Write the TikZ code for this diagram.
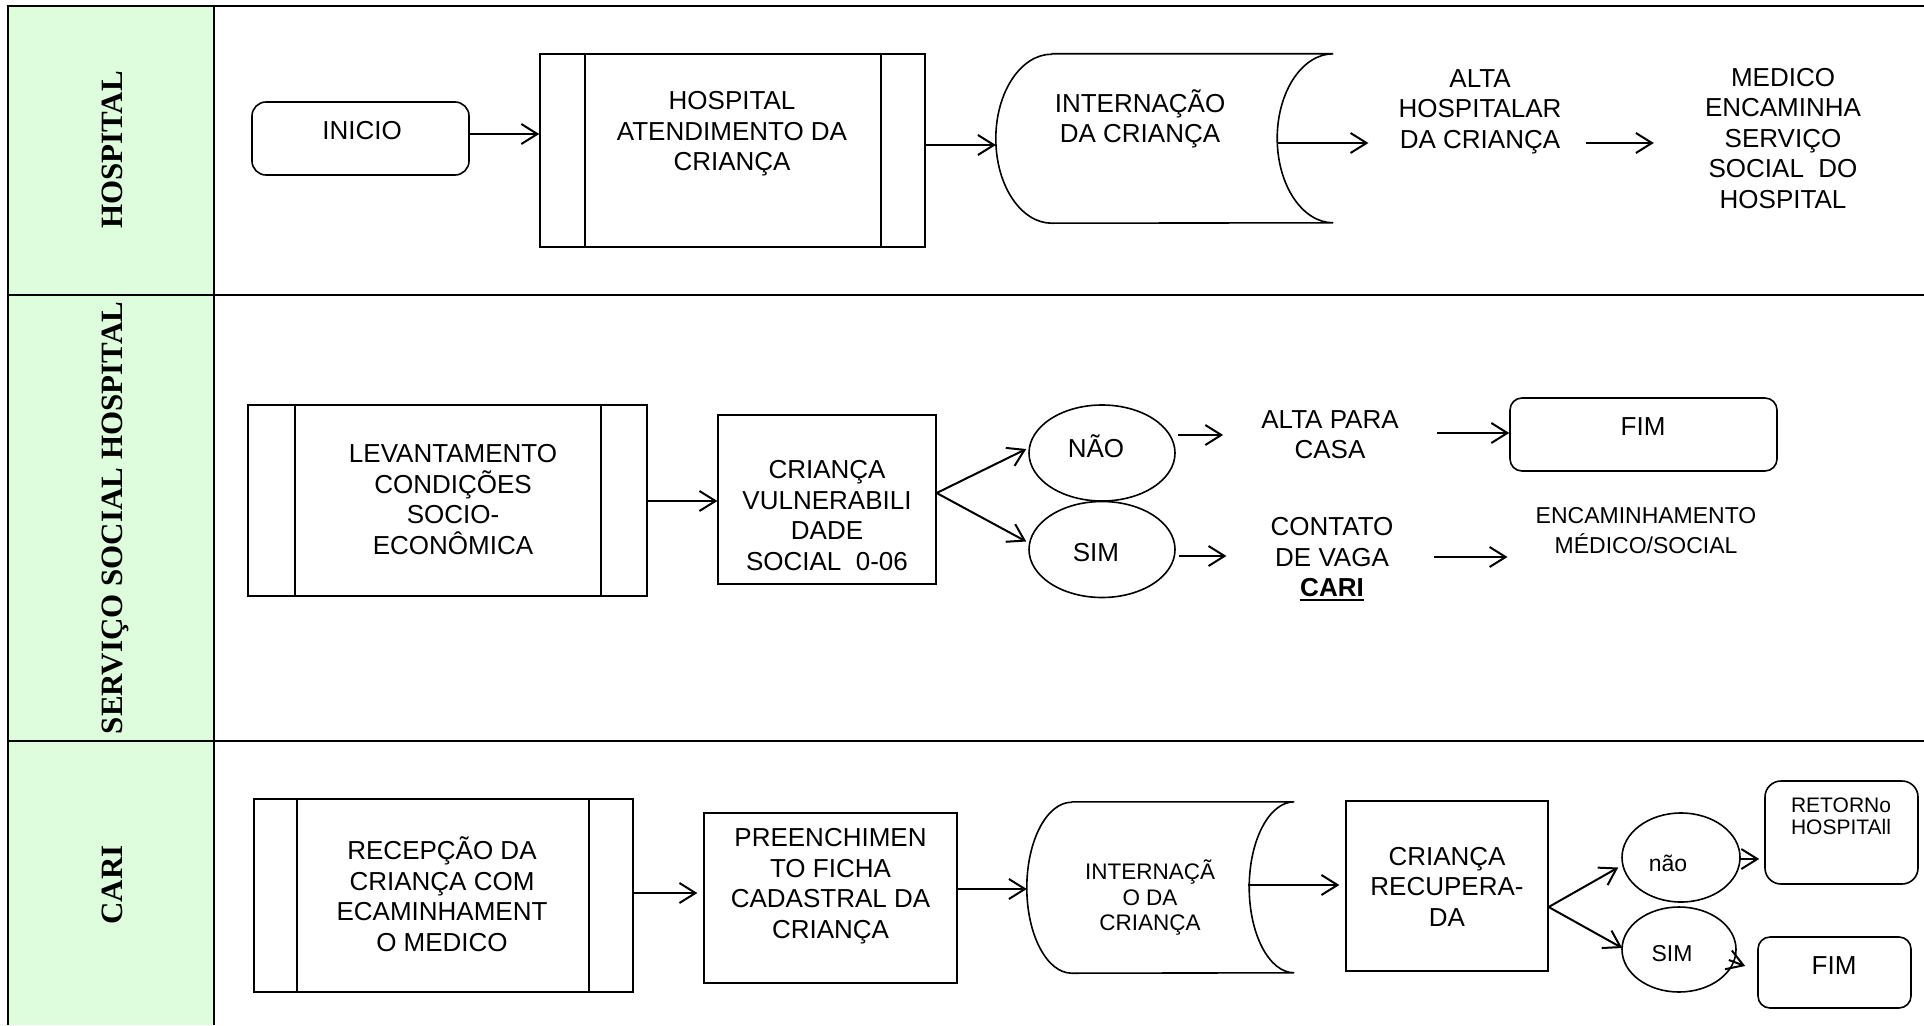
\documentclass[tikz,border=0pt]{standalone}
\usepackage{fontspec}
\setmainfont{Liberation Sans}
\newfontfamily\lanefont{Liberation Serif}
\usetikzlibrary{shapes.geometric,arrows.meta,calc}
\definecolor{lanegreen}{RGB}{221,253,221}
\newcommand\tstrut{\rule[-0.21em]{0pt}{1.14em}}
\newcommand\myul[1]{\leavevmode\vtop{\hbox{#1}\kern2pt\hrule height 2pt}}
\begin{document}
\begin{tikzpicture}[x=1pt,y=-1pt,
  frame/.style={line width=2.2pt},
  shp/.style={draw, line width=1.6pt, inner sep=0pt},
  txt/.style={inner sep=0pt, align=center, font=\fontsize{26pt}{30.5pt}\selectfont,
    execute at begin node=\tstrut, execute at end node=\tstrut},
  txtm/.style={txt, font=\fontsize{23pt}{30pt}\selectfont},
  txts/.style={txt, font=\fontsize{22.5pt}{25.5pt}\selectfont},
  txtxs/.style={txt, font=\fontsize{21pt}{22pt}\selectfont},
  arr/.style={line width=2pt, -{Straight Barb[length=16pt,width=20pt]}},
  lane/.style={rotate=90, inner sep=0pt, text height=21pt, text depth=0pt,
    font=\lanefont\bfseries\fontsize{31pt}{31pt}\selectfont},
  procline/.style={line width=1.6pt}
]
\useasboundingbox (0,0) rectangle (1924,1025);

% frame and lanes
\fill[lanegreen] (8,6) rectangle (214,1025);
\draw[frame] (1924,6) -- (8,6) -- (8,1025);
\draw[frame] (214,6) -- (214,1025);
\draw[frame] (8,295) -- (1924,295);
\draw[frame] (8,741) -- (1924,741);

\node[lane] (lh) at (112,150) {HOSPITAL};
\node[lane] (ls) at (112,518) {SERVIÇO SOCIAL HOSPITAL};
\node[lane] (lc) at (112,885) {CARI};

% ---------------- HOSPITAL lane
\node[shp, rounded corners=14pt, minimum width=217, minimum height=73] (inicio) at (360.5,138.5) {};
\node[txt] (inicioT) at (362,130) {INICIO};

\node[shp, minimum width=385, minimum height=193] (hosp) at (732.5,150.5) {};
\draw[procline] ([xshift=46pt]hosp.north west) -- ([xshift=46pt]hosp.south west);
\draw[procline] ([xshift=-45pt]hosp.north east) -- ([xshift=-45pt]hosp.south east);
\node[txt] (hospT) at (732,134) {HOSPITAL\\ATENDIMENTO DA\\CRIANÇA};

\node[inner sep=0pt, minimum width=337, minimum height=169] (int1) at (1164.5,138.5) {};
\draw[procline] ([xshift=56pt]int1.north west) -- (int1.north east)
  arc[start angle=90, end angle=270, x radius=56pt, y radius=84.5pt]
  -- ([xshift=56pt]int1.south west)
  arc[start angle=270, end angle=90, x radius=56pt, y radius=84.5pt];
\node[txt] (int1T) at (1140,119) {INTERNAÇÃO\\DA CRIANÇA};

\node[txt] (altaH) at (1480,111.5) {ALTA\\HOSPITALAR\\DA CRIANÇA};
\node[txt] (medico) at (1783,141) {MEDICO\\ENCAMINHA\\SERVIÇO\\SOCIAL\ \ DO\\HOSPITAL};

\draw[arr] ($(inicio.east)+(0,-4.5)$) coordinate (a1) -- (a1 -| hosp.west);
\draw[arr] ($(hosp.east)+(0,-5.5)$) coordinate (a2) -- (a2 -| int1.west);
\draw[arr] ($(int1.east)+(-56,4.5)$) coordinate (a3) -- ($(a3 -| altaH.west)+(-30,0)$);
\draw[arr] ($(a3 -| altaH.east)+(24,0)$) -- ($(a3 -| medico.west)+(-51,0)$);

% ---------------- SERVICO SOCIAL lane
\node[shp, minimum width=399, minimum height=191] (lev) at (447.5,500.5) {};
\draw[procline] ([xshift=48pt]lev.north west) -- ([xshift=48pt]lev.south west);
\draw[procline] ([xshift=-47pt]lev.north east) -- ([xshift=-47pt]lev.south east);
\node[txt] (levT) at (453,502) {LEVANTAMENTO\\CONDIÇÕES\\SOCIO-\\ECONÔMICA};

\node[shp, line width=1.3pt, minimum width=218, minimum height=169] (crv) at (827,499.5) {};
\node[txt] (crvT) at (827,518) {CRIANÇA\\VULNERABILI\\DADE\\SOCIAL\ \ 0-06};

\node[shp, ellipse, minimum width=146, minimum height=96] (nao) at (1102,453) {};
\node[txt] (naoT) at (1096,448) {NÃO};
\node[shp, ellipse, minimum width=146, minimum height=96] (sim) at (1102,549.5) {};
\node[txt] (simT) at (1096,552) {SIM};

\node[txt] (altaC) at (1330,437.5) {ALTA PARA\\CASA};
\node[txt] (contato) at (1332,560) {CONTATO\\DE VAGA\\\myul{\bfseries CARI}};

\node[shp, rounded corners=12pt, minimum width=267, minimum height=73] (fim1) at (1643.5,434.5) {};
\node[txt] (fim1T) at (1643,426) {FIM};
\node[txtm] (encam) at (1646,533) {ENCAMINHAMENTO\\MÉDICO/SOCIAL};

\draw[arr] ($(lev.east)+(0,0.5)$) coordinate (b1) -- (b1 -| crv.west);
\draw[arr] ($(crv.east)+(0,-6.5)$) coordinate (b2) -- ($(nao.west)+(-2,-4)$);
\draw[arr] (b2) -- ($(sim.west)+(-2,-8)$);
\draw[arr] ($(nao.east)+(2,-18)$) coordinate (b3) -- ($(b3 -| altaC.west)+(-38,0)$);
\draw[arr] ($(sim.east)+(3,6.5)$) coordinate (b4) -- ($(b4 -| contato.west)+(-44,0)$);
\draw[arr] ($(altaC.east)+(38.5,-4.5)$) coordinate (b5) -- (b5 -| fim1.west);
\draw[arr] ($(contato.east)+(40.5,-3)$) coordinate (b6) -- ($(b6 -| encam.west)+(-28,0)$);

% ---------------- CARI lane
\node[shp, minimum width=379, minimum height=193] (recep) at (443.5,895.5) {};
\draw[procline] ([xshift=44pt]recep.north west) -- ([xshift=44pt]recep.south west);
\draw[procline] ([xshift=-45pt]recep.north east) -- ([xshift=-45pt]recep.south east);
\node[txt] (recepT) at (442,897) {RECEPÇÃO DA\\CRIANÇA COM\\ECAMINHAMENT\\O MEDICO};

\node[shp, line width=1.3pt, minimum width=253, minimum height=170] (prf) at (830.5,898) {};
\node[txt] (prfT) at (830.5,886) {PREENCHIMEN\\TO FICHA\\CADASTRAL DA\\CRIANÇA};

\node[inner sep=0pt, minimum width=267, minimum height=171] (int2) at (1160.5,887.5) {};
\draw[procline] ([xshift=45pt]int2.north west) -- (int2.north east)
  arc[start angle=90, end angle=270, x radius=45pt, y radius=85.5pt]
  -- ([xshift=45pt]int2.south west)
  arc[start angle=270, end angle=90, x radius=45pt, y radius=85.5pt];
\node[txts] (int2T) at (1150,897.5) {INTERNAÇÃ\\O DA\\CRIANÇA};

\node[shp, line width=1.3pt, minimum width=202, minimum height=170] (rec) at (1447,886) {};
\node[txt] (recT) at (1447,889.5) {CRIANÇA\\RECUPERA-\\DA};

\node[shp, ellipse, minimum width=118, minimum height=89] (nao2) at (1681,857.5) {};
\node[txtm] (nao2T) at (1668,863) {não};
\node[shp, ellipse, minimum width=114, minimum height=85] (sim2) at (1679,949.5) {};
\node[txtm] (sim2T) at (1672,953) {SIM};

\node[shp, rounded corners=16pt, minimum width=153, minimum height=103] (ret) at (1841.5,832.5) {};
\node[txtxs] (retT) at (1841,818) {RETORNo\\HOSPITAll};
\node[shp, rounded corners=12pt, minimum width=153, minimum height=71] (fim2) at (1834.5,972.5) {};
\node[txt] (fim2T) at (1834,965) {FIM};

\draw[arr] ($(recep.east)+(0,-2.5)$) coordinate (c1) -- ($(c1 -| prf.west)+(-6,0)$);
\draw[arr] ($(prf.east)+(0,-9)$) coordinate (c2) -- (c2 -| int2.west);
\draw[arr] ($(int2.east)+(-46,-2.5)$) coordinate (c3) -- ($(c3 -| rec.west)+(-6,0)$);
\draw[arr] ($(rec.east)+(0,21)$) coordinate (c4) -- ($(nao2.west)+(-3,10)$);
\draw[arr] (c4) -- ($(sim2.west)+(1,-1.5)$);
\draw[arr] ($(nao2.east)+(-2,1.5)$) coordinate (c5) -- ($(c5 -| ret.west)+(-5,0)$);
\draw[arr] ($(sim2.east)+(-8,10.5)$) -- ($(fim2.west)+(-12,-6.5)$);
\end{tikzpicture}
\end{document}
